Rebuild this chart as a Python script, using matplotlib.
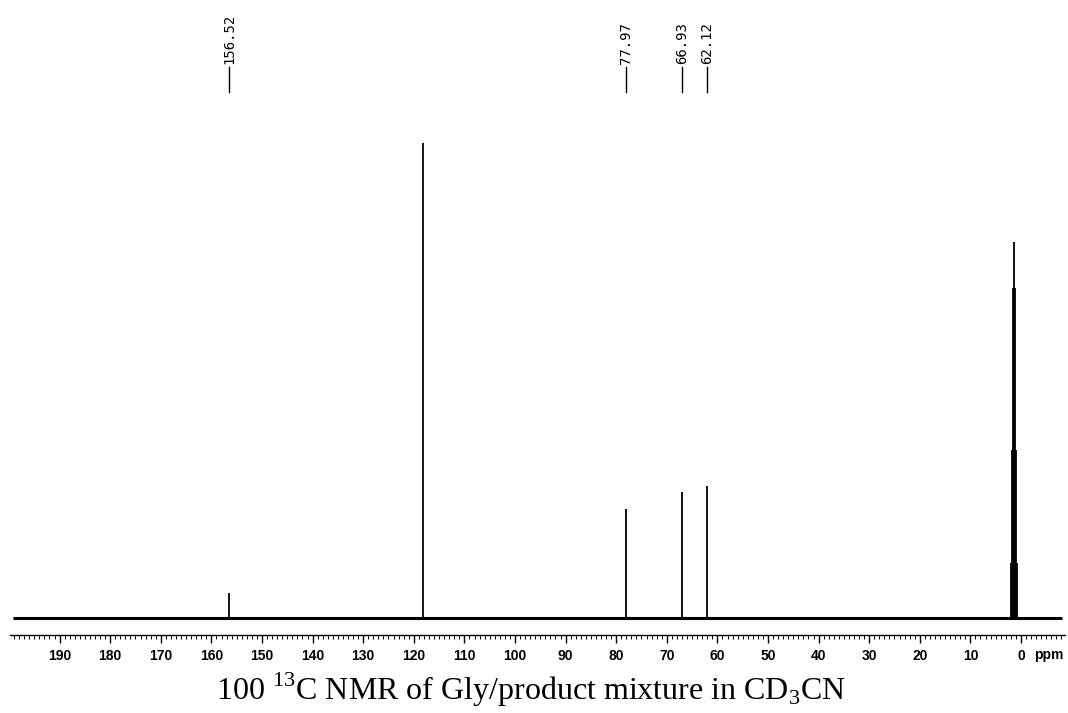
import numpy as np
import matplotlib
matplotlib.use("Agg")
import matplotlib.pyplot as plt
import matplotlib.transforms as mtransforms
from matplotlib.ticker import MultipleLocator

# peak list (ppm, intensity above baseline)
peak_ppm = [156.52, 118.26, 77.97, 66.93, 62.12]
peak_height = [25, 475, 109, 126, 132]

# CD3CN methyl septet (C-D coupling)
septet_ppm = [1.94, 1.73, 1.53, 1.32, 1.11, 0.90, 0.70]
septet_height = [55, 168, 330, 376, 330, 168, 55]

# shifts printed at the top of the spectrum
labelled_ppm = [156.52, 77.97, 66.93, 62.12]

xmin_ppm, xmax_ppm = 199.8, -8.7

plt.rcParams['mathtext.fontset'] = 'custom'
plt.rcParams['mathtext.rm'] = 'Liberation Serif'

fig = plt.figure(figsize=(10.68, 7.13), dpi=100)
ax = fig.add_axes([10 / 1068, 78 / 713, 1055 / 1068, 635 / 713])

# baseline and peaks
ax.hlines(0, xmin_ppm - 0.5, xmax_ppm + 0.5, color='black', lw=2.2)
ax.vlines(peak_ppm, 0, peak_height, color='black', lw=1.3)
ax.vlines(septet_ppm, 0, septet_height, color='black', lw=1.3)

ax.set_xlim(xmin_ppm, xmax_ppm)
ax.set_ylim(-17, 618)

for s in ['top', 'left', 'right']:
    ax.spines[s].set_visible(False)
ax.spines['bottom'].set_linewidth(1.0)
ax.set_yticks([])

ax.xaxis.set_major_locator(MultipleLocator(10))
ax.xaxis.set_minor_locator(MultipleLocator(1))
ax.tick_params(axis='x', which='major', length=6, width=1.0, direction='out', pad=4)
ax.tick_params(axis='x', which='minor', length=3, width=0.7, direction='out')
ax.set_xticks(np.arange(0, 200, 10))
for lab in ax.get_xticklabels():
    lab.set_fontfamily('Liberation Sans')
    lab.set_fontweight('bold')
    lab.set_fontsize(10)

# unit label next to 0
trans = mtransforms.blended_transform_factory(ax.transData, fig.transFigure)
ax.text(-5.4, (713 - 655) / 713, 'ppm', transform=trans, ha='center', va='center',
        fontfamily='Liberation Sans', fontweight='bold', fontsize=10)

# shift labels: short tick line with the value above it
trans = mtransforms.blended_transform_factory(ax.transData, ax.transAxes)
for p in labelled_ppm:
    ax.plot([p, p], [0.855, 0.894], color='black', lw=1.0, transform=trans, clip_on=False)
    ax.text(p, 0.899, f'{p:.2f}', rotation=90, ha='center', va='bottom', transform=trans,
            fontfamily='DejaVu Sans Mono', fontsize=10)

fig.text(0.497, 0.032, r'100 $^{13}$C NMR of Gly/product mixture in CD$_3$CN',
         ha='center', va='center', fontfamily='Liberation Serif', fontsize=23)

fig.savefig('out.png', dpi=100)
